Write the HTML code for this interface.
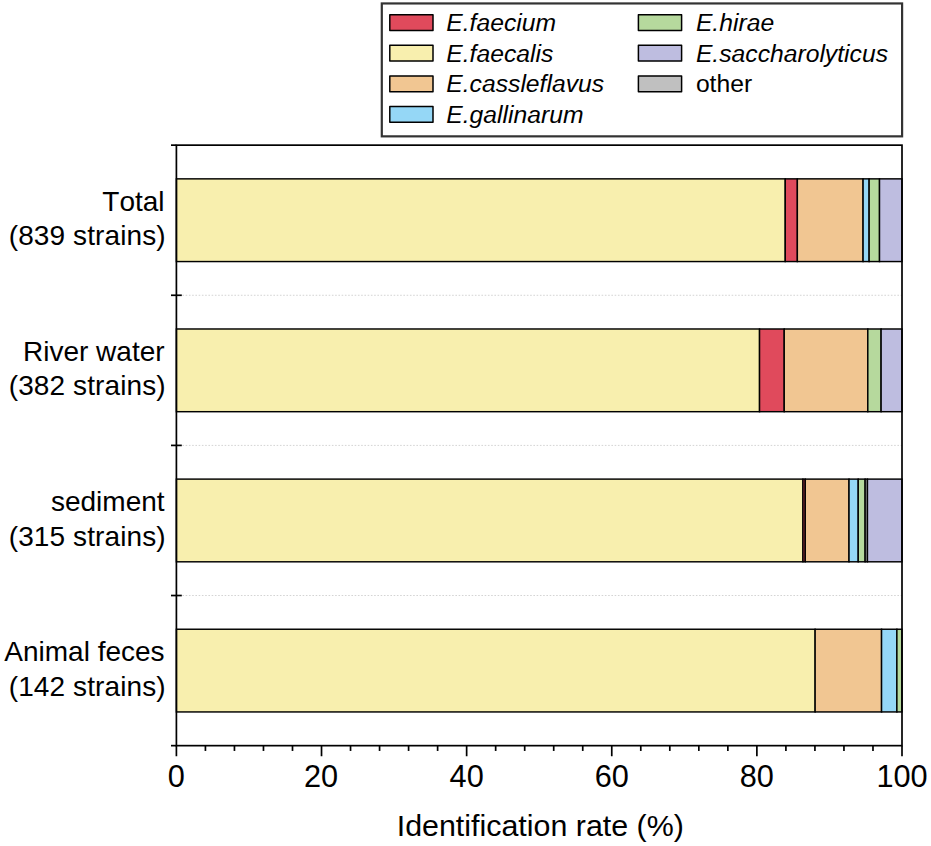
<!DOCTYPE html>
<html><head><meta charset="utf-8"><title>Identification rate</title>
<style>html,body{margin:0;padding:0;background:#fff;}svg{display:block;}text{font-family:"Liberation Sans",sans-serif;fill:#000;font-kerning:none;}</style>
</head><body>
<svg width="931" height="846" viewBox="0 0 931 846">
<rect x="0" y="0" width="931" height="846" fill="#fff"/>
<line x1="182.40" y1="295.27" x2="902.00" y2="295.27" stroke="#d4d4d4" stroke-width="1" stroke-dasharray="1.6 1.65"/>
<line x1="182.40" y1="445.40" x2="902.00" y2="445.40" stroke="#d4d4d4" stroke-width="1" stroke-dasharray="1.6 1.65"/>
<line x1="182.40" y1="595.52" x2="902.00" y2="595.52" stroke="#d4d4d4" stroke-width="1" stroke-dasharray="1.6 1.65"/>
<rect x="176.40" y="178.86" width="608.85" height="82.70" fill="#F8EFAE" stroke="#000" stroke-width="1.45"/>
<rect x="785.25" y="178.86" width="12.11" height="82.70" fill="#E04A5C" stroke="#000" stroke-width="1.45"/>
<rect x="797.35" y="178.86" width="65.73" height="82.70" fill="#F1C692" stroke="#000" stroke-width="1.45"/>
<rect x="863.08" y="178.86" width="6.05" height="82.70" fill="#95D7F6" stroke="#000" stroke-width="1.45"/>
<rect x="869.14" y="178.86" width="10.38" height="82.70" fill="#B6D99D" stroke="#000" stroke-width="1.45"/>
<rect x="879.51" y="178.86" width="22.49" height="82.70" fill="#BEBDE0" stroke="#000" stroke-width="1.45"/>
<rect x="176.40" y="328.99" width="583.14" height="82.70" fill="#F8EFAE" stroke="#000" stroke-width="1.45"/>
<rect x="759.54" y="328.99" width="24.69" height="82.70" fill="#E04A5C" stroke="#000" stroke-width="1.45"/>
<rect x="784.23" y="328.99" width="83.58" height="82.70" fill="#F1C692" stroke="#000" stroke-width="1.45"/>
<rect x="867.81" y="328.99" width="13.30" height="82.70" fill="#B6D99D" stroke="#000" stroke-width="1.45"/>
<rect x="881.11" y="328.99" width="20.89" height="82.70" fill="#BEBDE0" stroke="#000" stroke-width="1.45"/>
<rect x="176.40" y="479.11" width="626.55" height="82.70" fill="#F8EFAE" stroke="#000" stroke-width="1.45"/>
<rect x="802.95" y="479.11" width="2.30" height="82.70" fill="#E04A5C" stroke="#000" stroke-width="1.45"/>
<rect x="805.25" y="479.11" width="43.77" height="82.70" fill="#F1C692" stroke="#000" stroke-width="1.45"/>
<rect x="849.02" y="479.11" width="9.21" height="82.70" fill="#95D7F6" stroke="#000" stroke-width="1.45"/>
<rect x="858.23" y="479.11" width="6.91" height="82.70" fill="#B6D99D" stroke="#000" stroke-width="1.45"/>
<rect x="865.14" y="479.11" width="2.30" height="82.70" fill="#C0C0C0" stroke="#000" stroke-width="1.45"/>
<rect x="867.45" y="479.11" width="34.55" height="82.70" fill="#BEBDE0" stroke="#000" stroke-width="1.45"/>
<rect x="176.40" y="629.24" width="638.73" height="82.70" fill="#F8EFAE" stroke="#000" stroke-width="1.45"/>
<rect x="815.13" y="629.24" width="66.43" height="82.70" fill="#F1C692" stroke="#000" stroke-width="1.45"/>
<rect x="881.56" y="629.24" width="15.33" height="82.70" fill="#95D7F6" stroke="#000" stroke-width="1.45"/>
<rect x="896.89" y="629.24" width="5.11" height="82.70" fill="#B6D99D" stroke="#000" stroke-width="1.45"/>
<rect x="176.40" y="145.15" width="725.60" height="600.50" fill="none" stroke="#000" stroke-width="1.7"/>
<line x1="171.00" y1="145.15" x2="176.40" y2="145.15" stroke="#000" stroke-width="1.7"/>
<line x1="171.00" y1="295.27" x2="181.80" y2="295.27" stroke="#000" stroke-width="1.7"/>
<line x1="171.00" y1="445.40" x2="181.80" y2="445.40" stroke="#000" stroke-width="1.7"/>
<line x1="171.00" y1="595.52" x2="181.80" y2="595.52" stroke="#000" stroke-width="1.7"/>
<line x1="171.00" y1="745.65" x2="176.40" y2="745.65" stroke="#000" stroke-width="1.7"/>
<line x1="176.40" y1="745.65" x2="176.40" y2="756.25" stroke="#000" stroke-width="1.7"/>
<line x1="205.42" y1="745.65" x2="205.42" y2="750.95" stroke="#000" stroke-width="1.7"/>
<line x1="234.45" y1="745.65" x2="234.45" y2="750.95" stroke="#000" stroke-width="1.7"/>
<line x1="263.47" y1="745.65" x2="263.47" y2="750.95" stroke="#000" stroke-width="1.7"/>
<line x1="292.50" y1="745.65" x2="292.50" y2="750.95" stroke="#000" stroke-width="1.7"/>
<line x1="321.52" y1="745.65" x2="321.52" y2="756.25" stroke="#000" stroke-width="1.7"/>
<line x1="350.54" y1="745.65" x2="350.54" y2="750.95" stroke="#000" stroke-width="1.7"/>
<line x1="379.57" y1="745.65" x2="379.57" y2="750.95" stroke="#000" stroke-width="1.7"/>
<line x1="408.59" y1="745.65" x2="408.59" y2="750.95" stroke="#000" stroke-width="1.7"/>
<line x1="437.62" y1="745.65" x2="437.62" y2="750.95" stroke="#000" stroke-width="1.7"/>
<line x1="466.64" y1="745.65" x2="466.64" y2="756.25" stroke="#000" stroke-width="1.7"/>
<line x1="495.66" y1="745.65" x2="495.66" y2="750.95" stroke="#000" stroke-width="1.7"/>
<line x1="524.69" y1="745.65" x2="524.69" y2="750.95" stroke="#000" stroke-width="1.7"/>
<line x1="553.71" y1="745.65" x2="553.71" y2="750.95" stroke="#000" stroke-width="1.7"/>
<line x1="582.74" y1="745.65" x2="582.74" y2="750.95" stroke="#000" stroke-width="1.7"/>
<line x1="611.76" y1="745.65" x2="611.76" y2="756.25" stroke="#000" stroke-width="1.7"/>
<line x1="640.78" y1="745.65" x2="640.78" y2="750.95" stroke="#000" stroke-width="1.7"/>
<line x1="669.81" y1="745.65" x2="669.81" y2="750.95" stroke="#000" stroke-width="1.7"/>
<line x1="698.83" y1="745.65" x2="698.83" y2="750.95" stroke="#000" stroke-width="1.7"/>
<line x1="727.86" y1="745.65" x2="727.86" y2="750.95" stroke="#000" stroke-width="1.7"/>
<line x1="756.88" y1="745.65" x2="756.88" y2="756.25" stroke="#000" stroke-width="1.7"/>
<line x1="785.90" y1="745.65" x2="785.90" y2="750.95" stroke="#000" stroke-width="1.7"/>
<line x1="814.93" y1="745.65" x2="814.93" y2="750.95" stroke="#000" stroke-width="1.7"/>
<line x1="843.95" y1="745.65" x2="843.95" y2="750.95" stroke="#000" stroke-width="1.7"/>
<line x1="872.98" y1="745.65" x2="872.98" y2="750.95" stroke="#000" stroke-width="1.7"/>
<line x1="902.00" y1="745.65" x2="902.00" y2="756.25" stroke="#000" stroke-width="1.7"/>
<text x="176.40" y="787.0" font-size="30.7" text-anchor="middle">0</text>
<text x="321.02" y="787.0" font-size="30.7" text-anchor="middle">20</text>
<text x="466.64" y="787.0" font-size="30.7" text-anchor="middle">40</text>
<text x="611.76" y="787.0" font-size="30.7" text-anchor="middle">60</text>
<text x="756.88" y="787.0" font-size="30.7" text-anchor="middle">80</text>
<text x="902.00" y="787.0" font-size="30.7" text-anchor="middle">100</text>
<text x="540.3" y="836.4" font-size="30.4" text-anchor="middle">Identification rate (%)</text>
<text x="164.6" y="211.11" font-size="28" text-anchor="end">Total</text>
<text x="165.7" y="245.36" font-size="28" text-anchor="end" letter-spacing="0.1">(839 strains)</text>
<text x="164.6" y="361.24" font-size="28" text-anchor="end">River water</text>
<text x="165.7" y="395.49" font-size="28" text-anchor="end" letter-spacing="0.1">(382 strains)</text>
<text x="164.6" y="511.36" font-size="28" text-anchor="end">sediment</text>
<text x="165.7" y="545.61" font-size="28" text-anchor="end" letter-spacing="0.1">(315 strains)</text>
<text x="164.6" y="661.49" font-size="28" text-anchor="end">Animal feces</text>
<text x="165.7" y="695.74" font-size="28" text-anchor="end" letter-spacing="0.1">(142 strains)</text>
<rect x="381.8" y="3.45" width="520.3" height="132.9" fill="#fff" stroke="#333" stroke-width="2.2"/>
<rect x="389.80" y="14.70" width="43.2" height="15.8" fill="#E04A5C" stroke="#000" stroke-width="1.5" stroke-linejoin="round"/>
<text x="446.30" y="31.20" font-size="24.7" font-style="italic">E.faecium</text>
<rect x="389.80" y="45.30" width="43.2" height="15.8" fill="#F8EFAE" stroke="#000" stroke-width="1.5" stroke-linejoin="round"/>
<text x="446.30" y="61.80" font-size="24.7" font-style="italic">E.faecalis</text>
<rect x="389.80" y="75.90" width="43.2" height="15.8" fill="#F1C692" stroke="#000" stroke-width="1.5" stroke-linejoin="round"/>
<text x="446.30" y="92.40" font-size="24.7" font-style="italic">E.cassleflavus</text>
<rect x="389.80" y="106.50" width="43.2" height="15.8" fill="#95D7F6" stroke="#000" stroke-width="1.5" stroke-linejoin="round"/>
<text x="446.30" y="123.00" font-size="24.7" font-style="italic">E.gallinarum</text>
<rect x="638.40" y="14.70" width="43.2" height="15.8" fill="#B6D99D" stroke="#000" stroke-width="1.5" stroke-linejoin="round"/>
<text x="695.90" y="31.20" font-size="24.7" font-style="italic">E.hirae</text>
<rect x="638.40" y="45.30" width="43.2" height="15.8" fill="#BEBDE0" stroke="#000" stroke-width="1.5" stroke-linejoin="round"/>
<text x="695.90" y="61.80" font-size="24.7" font-style="italic">E.saccharolyticus</text>
<rect x="638.40" y="75.90" width="43.2" height="15.8" fill="#C0C0C0" stroke="#000" stroke-width="1.5" stroke-linejoin="round"/>
<text x="695.90" y="92.40" font-size="24.7">other</text>
</svg>
</body></html>
